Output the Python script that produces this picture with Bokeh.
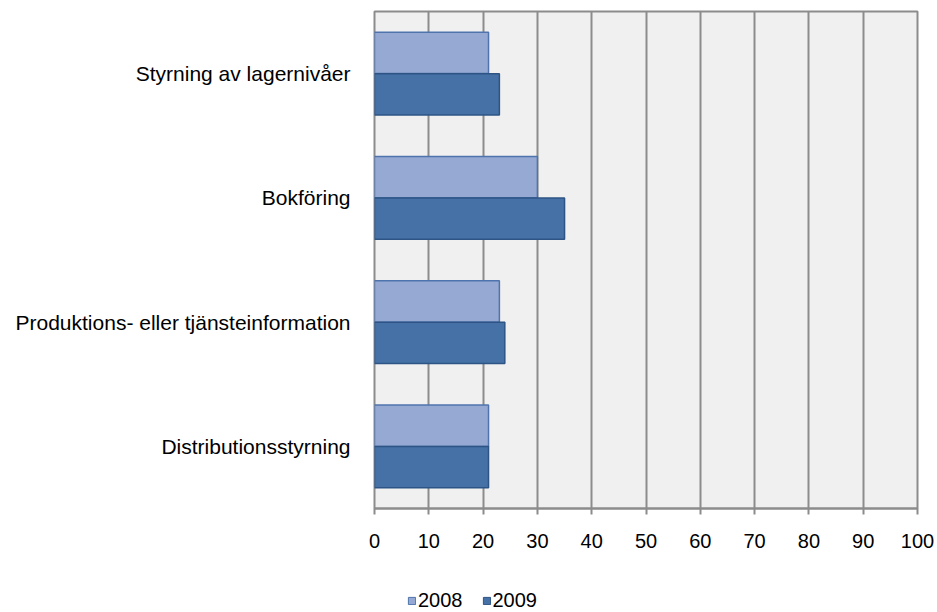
from bokeh.plotting import figure
from bokeh.layouts import column
from bokeh.models import FactorRange, Range1d, ColumnDataSource, Legend, LegendItem, FixedTicker
from bokeh.transform import dodge
from bokeh.embed import file_html
from bokeh.resources import INLINE

categories = ["Styrning av lagernivåer", "Bokföring", "Produktions- eller tjänsteinformation", "Distributionsstyrning"]
values_2008 = [21, 30, 23, 21]
values_2009 = [23, 35, 24, 21]
series = ["2008", "2009"]
x_ticks = [0, 10, 20, 30, 40, 50, 60, 70, 80, 90, 100]

src = ColumnDataSource(dict(cat=categories, v2008=values_2008, v2009=values_2009))

FONT = "Liberation Sans"
C2008_FILL, C2008_LINE = "#95A9D2", "#4F74AD"
C2009_FILL, C2009_LINE = "#4571A6", "#2E5485"

W = 937
H_MAIN, H_LEG = 590, 22
yr = FactorRange(*reversed(categories))
xr = Range1d(0, 100)
p = figure(width=W, height=H_MAIN, output_backend="svg", toolbar_location=None,
           y_range=yr, x_range=xr,
           min_border_left=374, min_border_right=W - 917, min_border_top=11,
           min_border_bottom=H_MAIN - 508)

p.background_fill_color = "#F0F0F0"
p.border_fill_color = "white"
p.outline_line_color = "#8C8C8C"
p.outline_line_width = 2

r1 = p.hbar(y=dodge("cat", 1/6, range=yr), right="v2008", left=0, height=1/3, source=src,
            fill_color=C2008_FILL, line_color=C2008_LINE, line_width=1.5)
r2 = p.hbar(y=dodge("cat", -1/6, range=yr), right="v2009", left=0, height=1/3, source=src,
            fill_color=C2009_FILL, line_color=C2009_LINE, line_width=1.5)

p.xgrid.ticker = FixedTicker(ticks=x_ticks)
p.xgrid.grid_line_color = "#8C8C8C"
p.xgrid.grid_line_width = 2
p.ygrid.grid_line_color = None

xa = p.xaxis[0]
xa.ticker = FixedTicker(ticks=x_ticks)
xa.axis_line_color = "#8C8C8C"
xa.axis_line_width = 2
xa.major_tick_line_color = "#8C8C8C"
xa.major_tick_line_width = 2
xa.major_tick_out = 6
xa.major_tick_in = 0
xa.minor_tick_line_color = None
xa.major_label_standoff = 19
xa.major_label_text_font = FONT
xa.major_label_text_font_size = "20px"
xa.major_label_text_color = "black"

ya = p.yaxis[0]
ya.axis_line_color = None
ya.major_tick_line_color = None
ya.minor_tick_line_color = None
ya.major_tick_out = 0
ya.major_label_standoff = 24
ya.major_label_text_font = FONT
ya.major_label_text_font_size = "21px"
ya.major_label_text_color = "black"

# Legend strip below the chart (separate small figure so the legend is not clipped)
leg = figure(width=W, height=H_LEG, output_backend="svg", toolbar_location=None,
             x_range=xr, y_range=yr, x_axis_type=None, y_axis_type=None,
             min_border_left=374, min_border_right=W - 917, min_border_top=0, min_border_bottom=0)
leg.outline_line_color = None
leg.background_fill_color = "white"
leg.grid.grid_line_color = None
lr1 = leg.hbar(y=dodge("cat", 1/6, range=yr), right="v2008", left=0, height=1/3, source=src,
               fill_color=C2008_FILL, line_color=C2008_LINE, line_width=1, visible=False)
lr2 = leg.hbar(y=dodge("cat", -1/6, range=yr), right="v2009", left=0, height=1/3, source=src,
               fill_color=C2009_FILL, line_color=C2009_LINE, line_width=1, visible=False)

legend = Legend(items=[LegendItem(label=series[0], renderers=[lr1]),
                       LegendItem(label=series[1], renderers=[lr2])],
                location=(33, 0), orientation="horizontal",
                glyph_width=9, glyph_height=9, label_height=20, label_standoff=2,
                spacing=19, padding=0, margin=0,
                label_text_font=FONT, label_text_font_size="20px", label_text_color="black",
                inactive_fill_alpha=0,
                background_fill_alpha=0, border_line_color=None)
leg.add_layout(legend, "center")

layout = column(p, leg, spacing=0)
open("out.html", "w").write(file_html(layout, INLINE))
